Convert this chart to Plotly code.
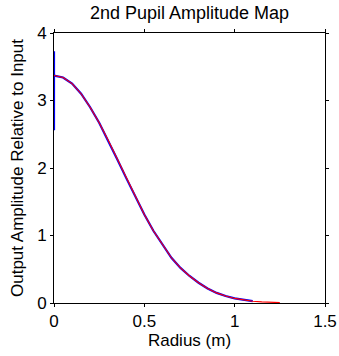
import plotly.graph_objects as go

# Radial samples of the pupil amplitude (m)
radius = [0.0, 0.05, 0.10, 0.15, 0.20, 0.25, 0.30, 0.35, 0.40, 0.45, 0.50,
          0.55, 0.60, 0.65, 0.70, 0.75, 0.80, 0.85, 0.90, 0.95, 1.00,
          1.05, 1.10, 1.15, 1.20, 1.25]
# Modelled amplitude profile (red)
amp_model = [3.37, 3.34, 3.25, 3.10, 2.90, 2.67, 2.41, 2.13, 1.85, 1.57, 1.31,
             1.07, 0.86, 0.67, 0.52, 0.40, 0.30, 0.215, 0.150, 0.103, 0.068,
             0.044, 0.027, 0.016, 0.009, 0.005]
# Sampled amplitude map (blue), including the on-axis samples at r = 0
radius_map = [0.0, 0.0, 0.0] + radius[1:23]
amp_map = [2.56, 3.73, 3.37] + amp_model[1:23]

font = "Liberation Sans, Arial, sans-serif"
fsize = 17

fig = go.Figure()
fig.add_trace(go.Scatter(x=radius_map, y=amp_map, mode="lines",
                         line=dict(color="#0000ff", width=2.2)))
fig.add_trace(go.Scatter(x=radius, y=amp_model, mode="lines",
                         line=dict(color="#ff0000", width=1.1)))

axis_common = dict(showgrid=False, zeroline=False, showline=True,
                   linecolor="black", linewidth=1, mirror="ticks",
                   ticks="outside", ticklen=3, tickcolor="black",
                   automargin=False,
                   tickfont=dict(family=font, size=fsize, color="black"))

fig.update_layout(
    width=339, height=356,
    margin=dict(l=54, r=14, t=33, b=53),
    paper_bgcolor="white", plot_bgcolor="white",
    showlegend=False,
    title=dict(text="2nd Pupil Amplitude Map", x=0.5, xanchor="center",
               xref="paper",
               y=1 - 13 / 356, yanchor="middle",
               font=dict(family=font, size=18, color="black")),
    xaxis=dict(range=[0, 1.5], tickvals=[0, 0.5, 1, 1.5],
               ticktext=["0", "0.5", "1", "1.5"],
               title=dict(text="Radius (m)", standoff=2,
                          font=dict(family=font, size=fsize, color="black")),
               **axis_common),
    yaxis=dict(range=[0, 4], tickvals=[0, 1, 2, 3, 4],
               title=dict(text="Output Amplitude Relative to Input", standoff=9,
                          font=dict(family=font, size=fsize, color="black")),
               **axis_common),
)

fig.write_html("out.html")
